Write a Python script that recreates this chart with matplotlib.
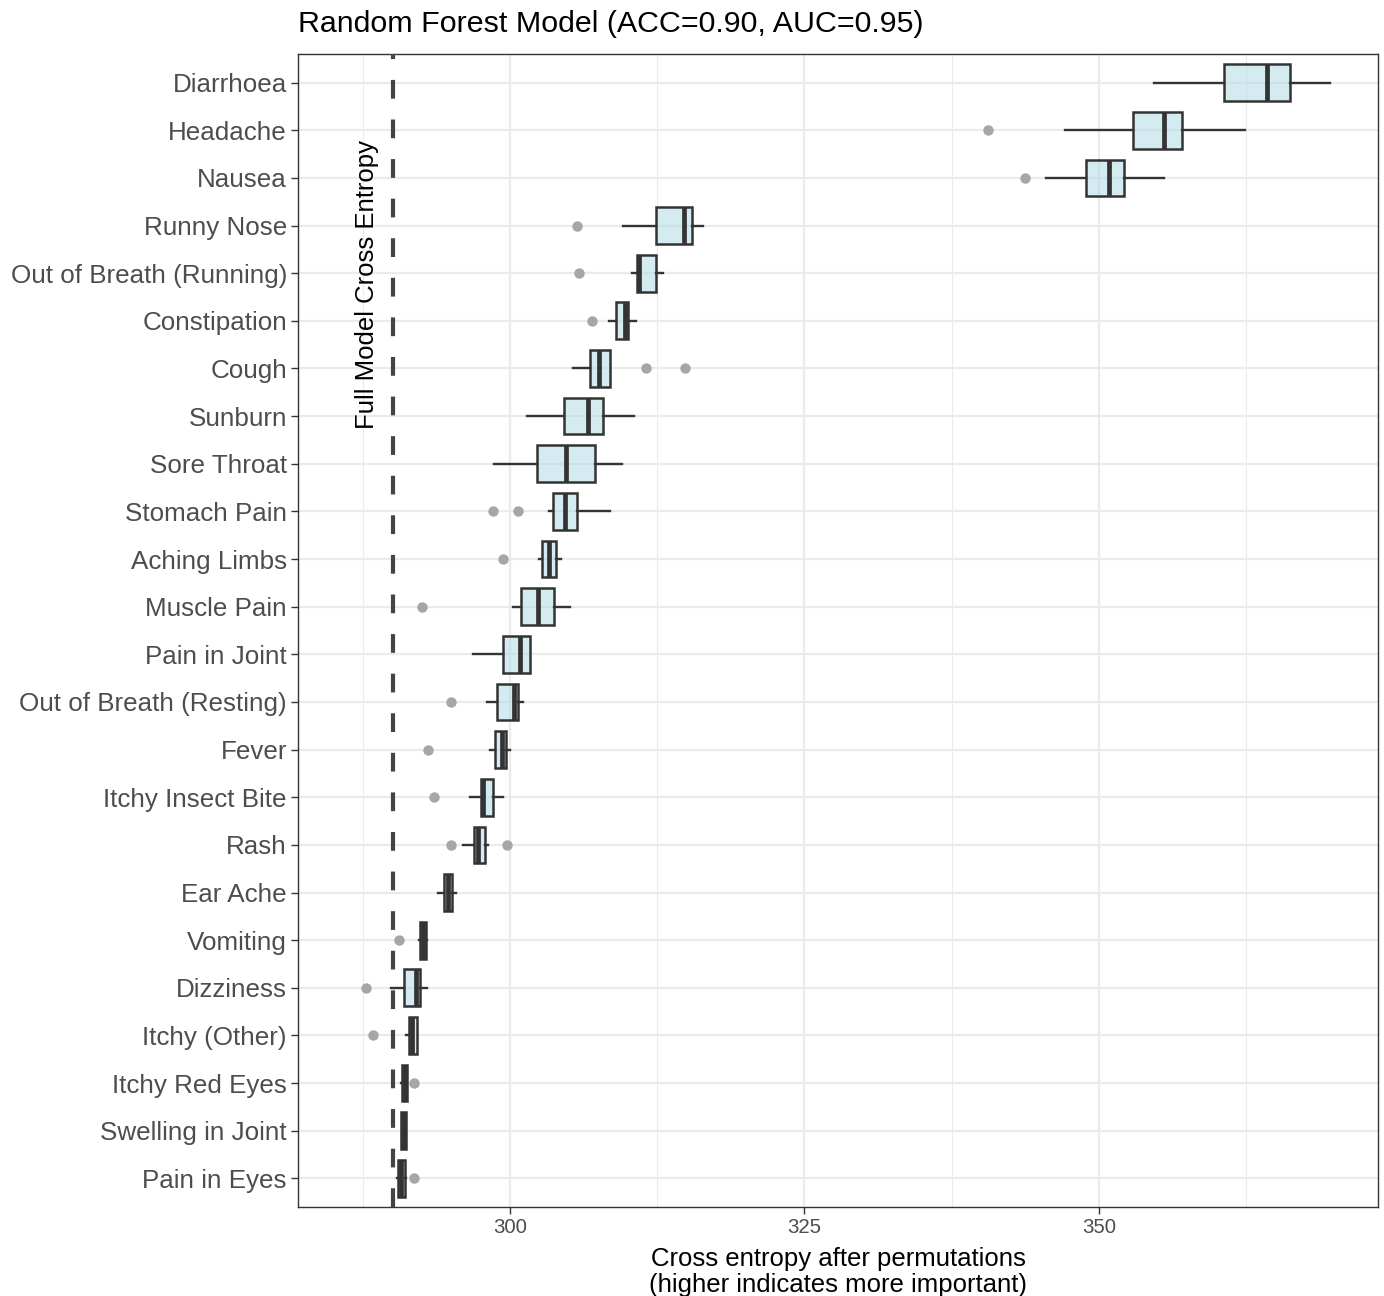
"""
Random forest permutation importance: cross entropy after permuting each symptom.
"""
import numpy as np
import matplotlib
matplotlib.use("Agg")
import matplotlib.pyplot as plt

plt.rcParams["font.family"] = ["Liberation Sans", "DejaVu Sans"]

symptoms = [
    "Diarrhoea", "Headache", "Nausea", "Runny Nose", "Out of Breath (Running)",
    "Constipation", "Cough", "Sunburn", "Sore Throat", "Stomach Pain",
    "Aching Limbs", "Muscle Pain", "Pain in Joint", "Out of Breath (Resting)",
    "Fever", "Itchy Insect Bite", "Rash", "Ear Ache", "Vomiting", "Dizziness",
    "Itchy (Other)", "Itchy Red Eyes", "Swelling in Joint", "Pain in Eyes",
]
whisLo = [354.67, 347.11, 345.47, 309.62, 310.38, 308.43, 305.32, 301.41, 298.64, 303.28,
          302.46, 300.28, 296.83, 298.07, 298.30, 296.63, 296.01, 293.89, 292.25, 289.87,
          291.14, 290.75, 290.78, 290.38]
q1 = [360.61, 352.91, 348.87, 312.37, 310.75, 308.97, 306.79, 304.58, 302.32, 303.68,
      302.69, 300.91, 299.38, 298.92, 298.73, 297.54, 296.92, 294.42, 292.36, 291.00,
      291.43, 290.86, 290.78, 290.47]
median = [364.26, 355.55, 350.82, 314.80, 310.98, 309.76, 307.58, 306.65, 304.75, 304.67,
          303.34, 302.35, 300.85, 300.34, 299.35, 297.74, 297.31, 294.74, 292.61, 292.02,
          291.65, 291.06, 290.98, 290.78]
q3 = [366.21, 357.08, 352.15, 315.42, 312.37, 310.05, 308.49, 307.87, 307.22, 305.66,
      303.90, 303.76, 301.73, 300.68, 299.69, 298.58, 297.88, 295.10, 292.84, 292.36,
      292.13, 291.28, 291.17, 291.11]
whisHi = [369.61, 362.42, 355.52, 316.41, 313.02, 310.67, 308.49, 310.50, 309.51, 308.49,
          304.30, 305.09, 301.73, 301.08, 300.00, 299.44, 298.16, 295.42, 292.93, 292.93,
          292.13, 291.28, 291.17, 291.17]
outliers = [
    [], [340.6], [343.75], [305.71], [305.86], [306.96], [311.55, 314.89], [], [],
    [298.58, 300.68], [299.41], [292.53], [], [295.02], [293.06], [293.55],
    [295.02, 299.72], [], [290.60], [287.80], [288.39], [291.82], [], [291.82],
]
fullModelCE = 290.07
xTicks = [300, 325, 350]
xMinor = [287.5, 312.5, 337.5, 362.5]

W, H, DPI = 1384, 1296, 100
fig = plt.figure(figsize=(W / DPI, H / DPI), dpi=DPI)
ax = fig.add_axes([298 / W, 1 - 1207 / H, (1378 - 298) / W, (1207 - 54) / H])

for x in xMinor:
    ax.axvline(x, color="#ebebeb", lw=0.8, zorder=0)
for x in xTicks:
    ax.axvline(x, color="#ebebeb", lw=1.6, zorder=0)
for i in range(len(symptoms)):
    ax.axhline(i, color="#ebebeb", lw=1.6, zorder=0)

stats = []
for i, name in enumerate(symptoms):
    stats.append({"label": name, "whislo": whisLo[i], "q1": q1[i], "med": median[i],
                  "q3": q3[i], "whishi": whisHi[i], "fliers": outliers[i]})

ax.bxp(stats, positions=np.arange(len(symptoms)), widths=0.77, orientation="horizontal",
       patch_artist=True, showcaps=False, manage_ticks=False,
       boxprops=dict(facecolor=(173 / 255, 216 / 255, 230 / 255, 0.5), edgecolor="#333333", linewidth=1.8),
       medianprops=dict(color="#333333", linewidth=3.4, solid_capstyle="butt"),
       whiskerprops=dict(color="#333333", linewidth=1.7),
       flierprops=dict(marker="o", markerfacecolor="#a6a6a6", markeredgecolor="none", markersize=7.5),
       zorder=2)

ax.axvline(fullModelCE, color="#444444", lw=3.0, dashes=(4.5, 5), zorder=3)
ax.text(287.86, 4.23, "Full Model Cross Entropy", rotation=90, ha="center", va="center",
        fontsize=18.5, color="black", zorder=4)

ax.set_xlim(282.0, 373.7)
ax.set_ylim(len(symptoms) - 1 + 0.6, -0.6)
ax.set_xticks(xTicks)
ax.set_xticklabels([str(t) for t in xTicks], fontsize=14.7, color="#4d4d4d")
ax.set_yticks(np.arange(len(symptoms)))
ax.set_yticklabels(symptoms, fontsize=18.7, color="#4d4d4d")
ax.tick_params(axis="both", length=5, width=1.0, color="#333333", pad=3)
for sp in ax.spines.values():
    sp.set_color("#333333")
    sp.set_linewidth(1.0)

ax.set_xlabel("Cross entropy after permutations\n(higher indicates more important)",
              fontsize=18.5, color="black", linespacing=1.1, labelpad=7)
fig.text(298 / W, 1 - 24 / H, "Random Forest Model (ACC=0.90, AUC=0.95)",
         fontsize=21.9, ha="left", va="center", color="black")

fig.savefig("out.png", dpi=DPI)
